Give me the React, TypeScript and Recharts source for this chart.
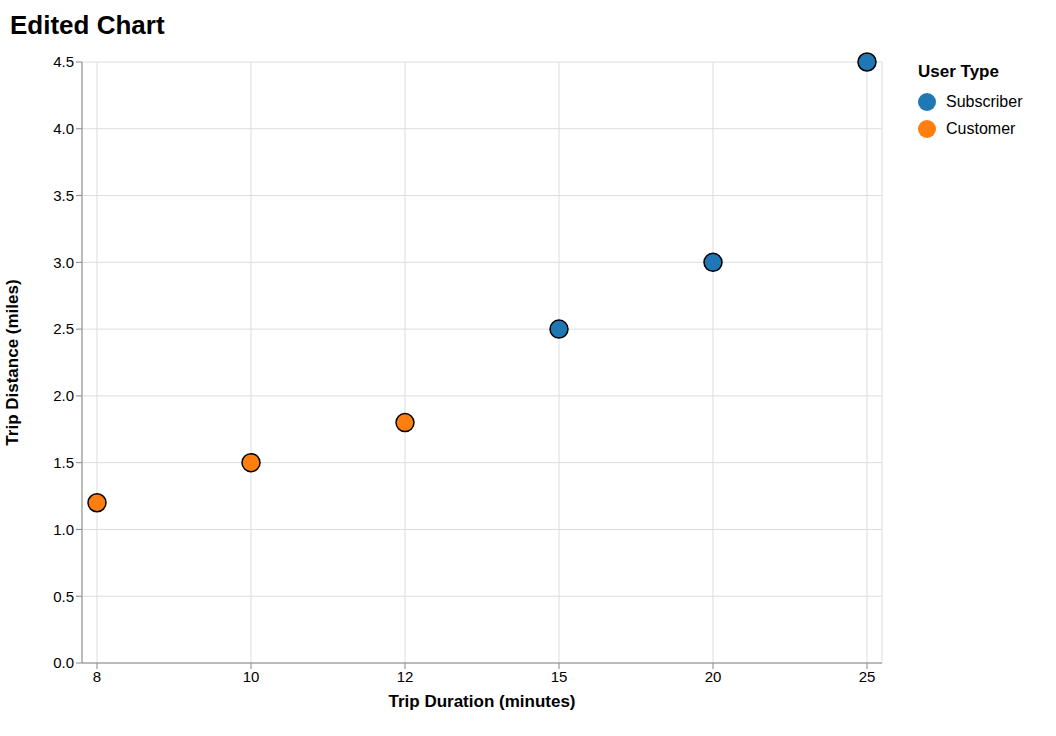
import React from "react";
import { ScatterChart, Scatter, XAxis, YAxis, CartesianGrid, Label } from "recharts";

const customerDurations = [8, 10, 12];
const customerDistances = [1.2, 1.5, 1.8];
const subscriberDurations = [15, 20, 25];
const subscriberDistances = [2.5, 3.0, 4.5];
const yTicks = [0, 0.5, 1, 1.5, 2, 2.5, 3, 3.5, 4, 4.5];

const customer = customerDurations.map((d, i) => ({ duration: d, distance: customerDistances[i] }));
const subscriber = subscriberDurations.map((d, i) => ({ duration: d, distance: subscriberDistances[i] }));

const FONT = "'Liberation Sans', Arial, sans-serif";
const BLUE = "#1f77b4";
const ORANGE = "#ff7f0e";

const dot = (fill: string) => (p: any) => (
  <circle cx={p.cx} cy={p.cy} r={9} fill={fill} stroke="#000" strokeWidth={1.5} />
);

export default function App() {
  return (
    <div style={{ position: "absolute", left: 0, top: 0, width: 1056, height: 736, fontFamily: FONT, background: "#fff" }}>
      <div style={{ position: "absolute", left: 10, top: 10, fontSize: 26, fontWeight: "bold" }}>Edited Chart</div>
      <div style={{ position: "absolute", left: 918, top: 62, fontSize: 16 }}>
        <div style={{ fontWeight: "bold", fontSize: 17, marginBottom: 6 }}>User Type</div>
        {[["Subscriber", BLUE], ["Customer", ORANGE]].map(([n, c]) => (
          <div key={n} style={{ display: "flex", alignItems: "center", height: 27 }}>
            <span style={{ width: 18, height: 18, borderRadius: 9, background: c, display: "inline-block", marginRight: 10 }} />
            {n}
          </div>
        ))}
      </div>
      <ScatterChart width={1056} height={736} margin={{ top: 62, right: 174, bottom: 33, left: 22 }}>
        <CartesianGrid stroke="#ddd" />
        <XAxis
          type="category"
          scale="point"
          dataKey="duration"
          allowDuplicatedCategory={false}
          padding={{ left: 15, right: 15 }}
          height={40}
          tickSize={6}
          tick={{ fill: "#000", fontSize: 15, fontFamily: FONT }}
          stroke="#888"
        >
          <Label value="Trip Duration (minutes)" position="insideBottom" offset={-4} style={{ fontWeight: "bold", fontSize: 17, fill: "#000" }} />
        </XAxis>
        <YAxis
          type="number"
          dataKey="distance"
          domain={[0, 4.5]}
          ticks={yTicks}
          tickFormatter={(v) => v.toFixed(1)}
          width={60}
          tick={{ fill: "#000", fontSize: 15, fontFamily: FONT }}
          stroke="#888"
        >
          <Label value="Trip Distance (miles)" angle={-90} position="insideLeft" offset={-10} style={{ fontWeight: "bold", fontSize: 17, fill: "#000", textAnchor: "middle" }} />
        </YAxis>
        <Scatter data={customer} shape={dot(ORANGE)} isAnimationActive={false} />
        <Scatter data={subscriber} shape={dot(BLUE)} isAnimationActive={false} />
      </ScatterChart>
    </div>
  );
}
